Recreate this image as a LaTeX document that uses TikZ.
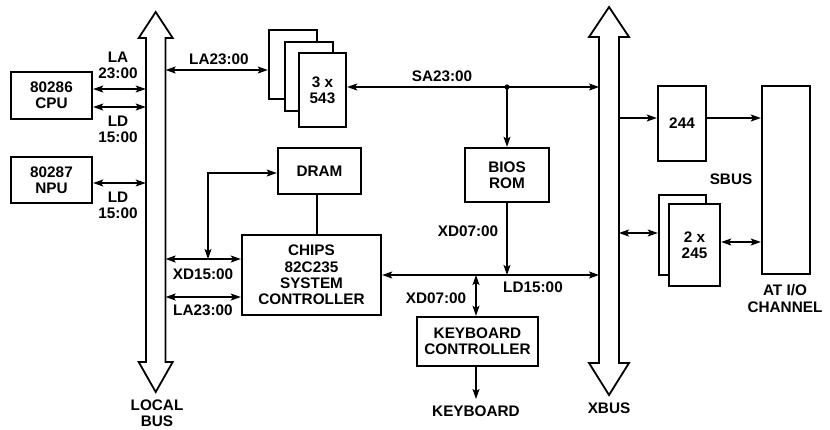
\documentclass[tikz,border=0pt]{standalone}
\usepackage{fontspec}
\setmainfont{Liberation Sans}
\usetikzlibrary{arrows.meta,calc}
\begin{document}
\begin{tikzpicture}[x=1pt,y=-1pt,
  font=\fontsize{15.3}{16.2}\selectfont\bfseries,
  box/.style={draw, line width=2.4pt, inner sep=0, align=center, fill=white},
  conn/.style={line width=1.2pt},
  tipend/.style={conn,-{Stealth[length=10pt,width=7pt,inset=2pt]}},
  twoway/.style={conn,{Stealth[length=10pt,width=7pt,inset=2pt]}-{Stealth[length=10pt,width=7pt,inset=2pt]}},
  busline/.style={draw, line width=1.8pt, fill=white, line join=miter},
  shaft/.style={inner sep=0, draw=none, minimum width=19.5},
  lbl/.style={inner sep=0, align=center}]
\useasboundingbox (0,0) rectangle (830,429);

% ---- buses ----
\path[busline] (155.7,12) -- (172.7,38) -- (165.5,38) -- (165.5,362) -- (172.7,362)
  -- (155.7,392) -- (138.7,362) -- (146,362) -- (146,38) -- (138.7,38) -- cycle;
\node[shaft, minimum height=324] (lb) at (155.7,200) {};
\path[busline] (609,7) -- (629,37) -- (619,37) -- (619,363) -- (629,363)
  -- (609,395) -- (589,363) -- (599,363) -- (599,37) -- (589,37) -- cycle;
\node[shaft, minimum height=326] (xb) at (609,200) {};

% ---- boxes ----
\node[box, minimum width=81, minimum height=47] (cpu) at (51.5,95.5) {80286\\CPU};
\node[box, minimum width=81, minimum height=46] (npu) at (51.5,180) {80287\\NPU};
\node[box, minimum width=48, minimum height=69] (la) at (293,64.5) {};
\node[box, minimum width=48, minimum height=69] (lb2) at (309,76.5) {};
\node[box, minimum width=47, minimum height=74] (lc) at (322.5,90) {3 x\\543};
\node[box, minimum width=83, minimum height=46] (dram) at (319.5,171) {DRAM};
\node[box, minimum width=84, minimum height=54] (bios) at (507,175) {BIOS\\ROM};
\node[box, minimum width=139, minimum height=80] (chips) at (311.5,275)
  {CHIPS\\82C235\\SYSTEM\\CONTROLLER};
\node[box, minimum width=121, minimum height=49] (kbc) at (477.5,341.5) {KEYBOARD\\CONTROLLER};
\node[box, minimum width=48, minimum height=75] (b244) at (682,123.5) {244};
\node[box, minimum width=47, minimum height=80] (b245a) at (682.5,235) {};
\node[box, minimum width=51, minimum height=82] (b245b) at (694.5,245) {2 x\\245};
\node[box, minimum width=48, minimum height=188] (atio) at (786,180) {};

% ---- connectors ----
\draw[twoway] (cpu.east |- 0,89) -- (lb.west |- 0,89);
\draw[twoway] (cpu.east |- 0,107) -- (lb.west |- 0,107);
\draw[twoway] (npu.east |- 0,183) -- (lb.west |- 0,183);
\draw[twoway] (lb.east |- 0,70) -- (la.west |- 0,70);
\draw[twoway] (lc.east |- 0,87) -- (xb.west |- 0,87);
\coordinate (sadot) at (507,87);
\fill (sadot) circle (2.6);
\draw[tipend] (sadot) -- (bios.north);
\coordinate (xdj) at (208,259);
\draw[twoway] (xdj) -- (208,173) -- (dram.west |- 0,173);
\draw[conn] (dram.south -| 317,0) -- (chips.north -| 317,0);
\draw[twoway] (lb.east |- xdj) -- (chips.west |- xdj);
\draw[twoway] (lb.east |- 0,297) -- (chips.west |- 0,297);
\draw[twoway] (chips.east |- 0,275) -- (xb.west |- 0,275);
\coordinate (ldj) at (507,275);
\draw[tipend] (bios.south) -- (ldj);
\coordinate (kbj) at (476,275);
\draw[twoway] (kbj) -- (kbc.north -| kbj);
\node[lbl] (kbd) at (476,411) {KEYBOARD};
\draw[tipend] (kbc.south -| kbj) -- (476,399);
\draw[tipend] (xb.east |- 0,118) -- (b244.west |- 0,118);
\draw[tipend] (b244.east |- 0,118) -- (atio.west |- 0,118);
\draw[twoway] (xb.east |- 0,233) -- (b245a.west |- 0,233);
\draw[twoway] (b245b.east |- 0,242) -- (atio.west |- 0,242);

% ---- labels ----
\node[lbl] at (118,65.5) {LA\\23:00};
\node[lbl] at (118,129.5) {LD\\15:00};
\node[lbl] at (118,205.5) {LD\\15:00};
\node[lbl] at (219,59) {LA23:00};
\node[lbl] at (442,76) {SA23:00};
\node[lbl] at (203,274) {XD15:00};
\node[lbl] at (203,310) {LA23:00};
\node[lbl] at (468,231) {XD07:00};
\node[lbl] at (533,287) {LD15:00};
\node[lbl] at (436,298) {XD07:00};
\node[lbl] at (157,413.5) {LOCAL\\BUS};
\node[lbl] at (609,408) {XBUS};
\node[lbl] at (731,179) {SBUS};
\node[lbl] at (785,298.5) {AT I/O\\CHANNEL};
\end{tikzpicture}
\end{document}
